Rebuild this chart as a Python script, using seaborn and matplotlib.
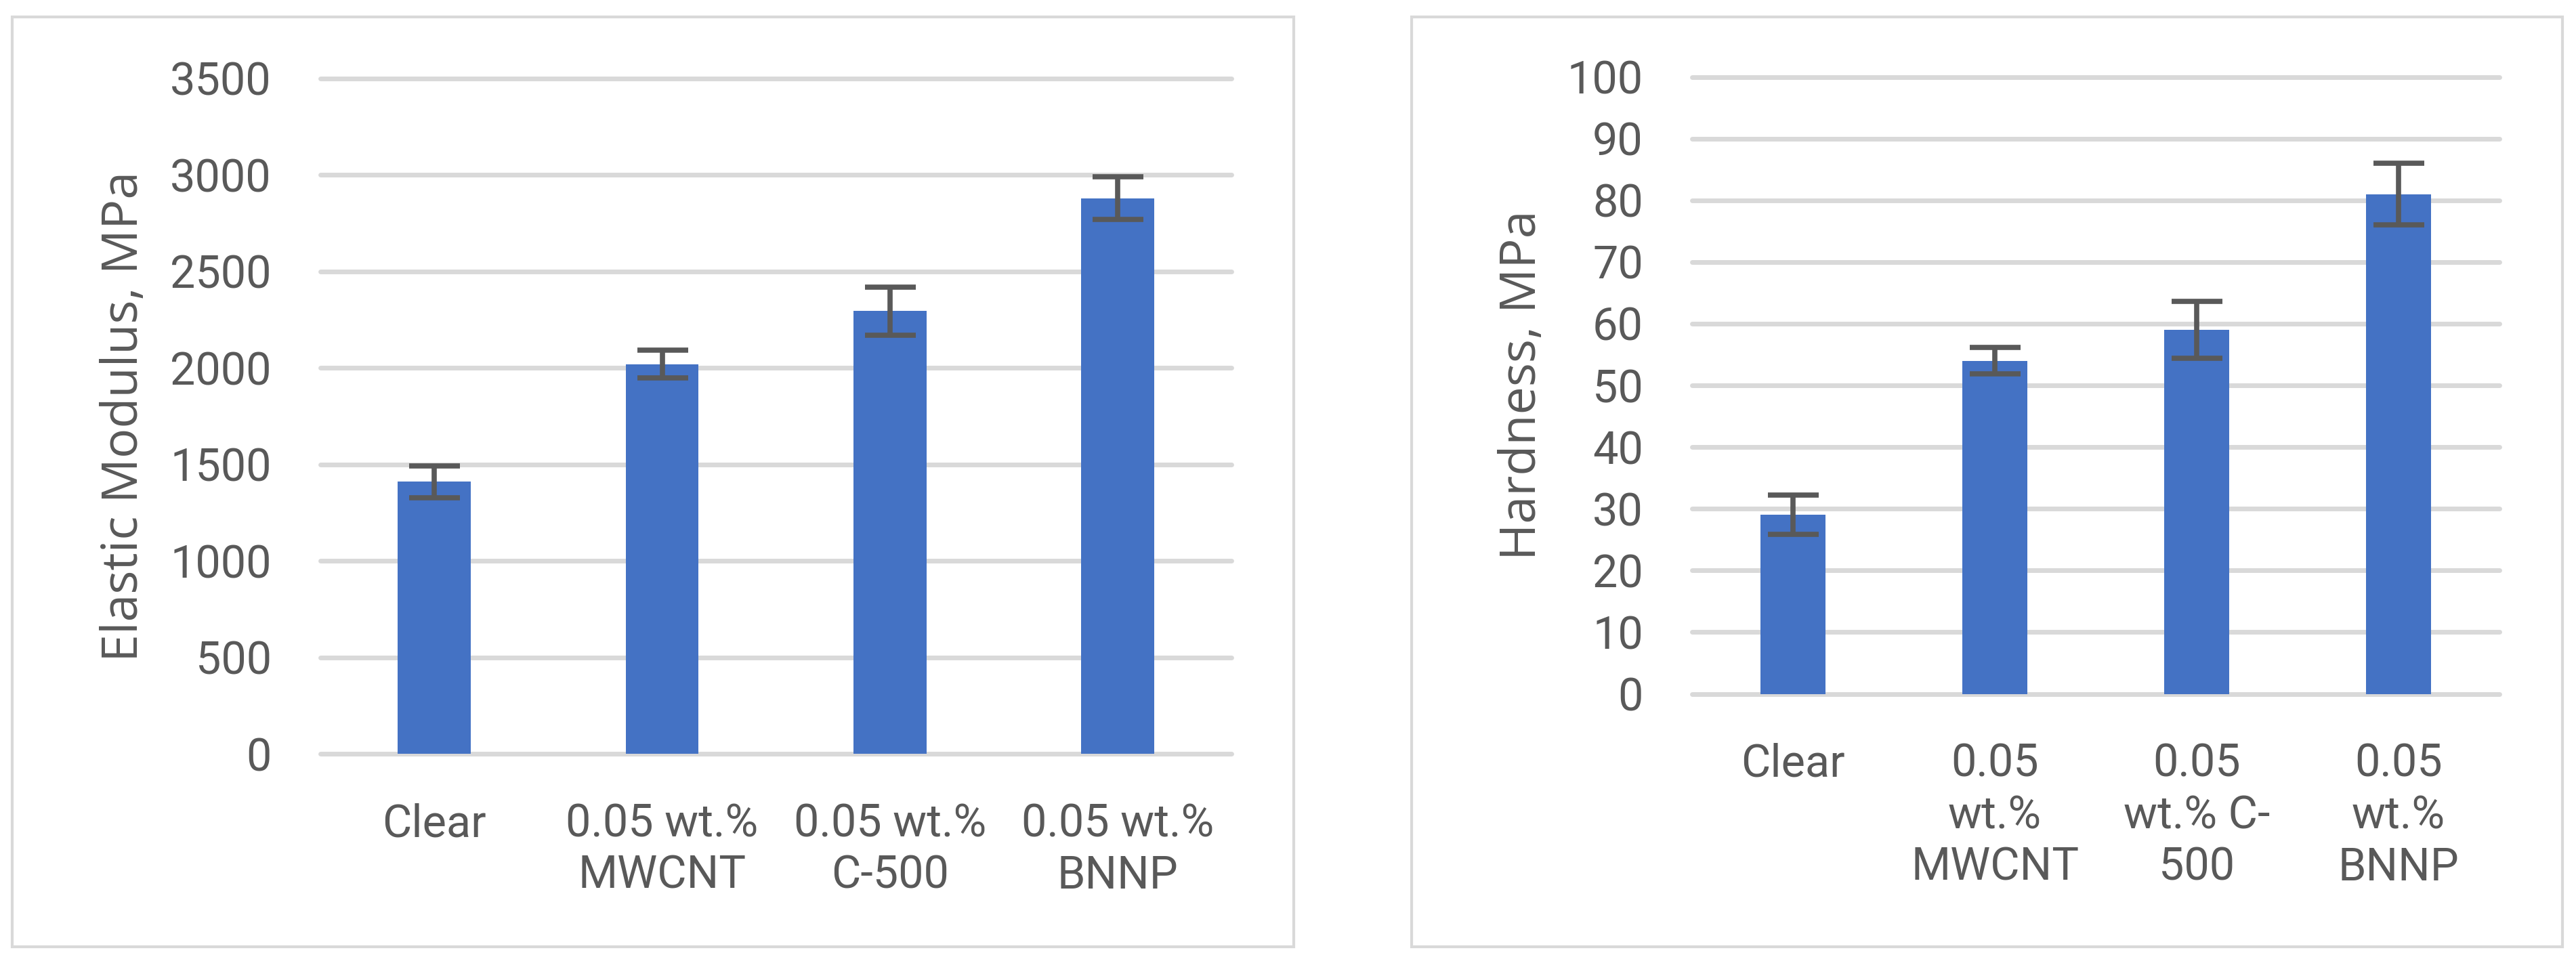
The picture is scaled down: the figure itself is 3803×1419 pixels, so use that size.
import matplotlib
matplotlib.use('Agg')
import matplotlib.pyplot as plt
import seaborn as sns
from matplotlib.patches import Rectangle

# cores
BLUE = '#4472C4'
GRAY_TXT = '#595959'
GRAY_GRID = '#D9D9D9'

# dados
modulus_labels = ['Clear', '0.05 wt.%\nMWCNT', '0.05 wt.%\nC-500', '0.05 wt.%\nBNNP']
modulus_vals = [1410, 2020, 2295, 2880]
modulus_err = [83, 72, 124, 111]
modulus_ticks = [0, 500, 1000, 1500, 2000, 2500, 3000, 3500]

hard_labels = ['Clear', '0.05\nwt.%\nMWCNT', '0.05\nwt.% C-\n500', '0.05\nwt.%\nBNNP']
hard_vals = [29, 54, 59, 81]
hard_err = [3.2, 2.1, 4.6, 5.0]
hard_ticks = list(range(0, 101, 10))

sns.set_style('white')
plt.rcParams['font.family'] = ['Roboto', 'DejaVu Sans']

fig = plt.figure(figsize=(38.03, 14.19), dpi=100)
ax1 = fig.add_axes([0.1244, 0.2156, 0.3537, 0.7027])
ax2 = fig.add_axes([0.6569, 0.278, 0.3134, 0.642])


def plotar_barras(ax, labels, vals, errs, ticks, ylabel, label_x):
    sns.barplot(x=labels, y=vals, color=BLUE, width=0.32, saturation=1,
                linewidth=0, ax=ax, zorder=3)
    ax.errorbar(x=list(range(len(vals))), y=vals, yerr=errs, fmt='none',
                ecolor=GRAY_TXT, elinewidth=5.5, capsize=27, capthick=5.5,
                zorder=4)
    ax.set_xlim(-0.5, len(vals) - 0.5)
    ax.set_ylim(ticks[0], ticks[-1])
    ax.set_yticks(ticks)
    ax.set_yticklabels([str(t) for t in ticks], fontsize=48, color=GRAY_TXT)
    ax.set_xticks(list(range(len(labels))))
    ax.set_xticklabels(labels, fontsize=48, color=GRAY_TXT, linespacing=1.25)
    ax.tick_params(axis='both', length=0, pad=52)
    ax.set_axisbelow(True)
    ax.yaxis.grid(True, color=GRAY_GRID, linewidth=5)
    ax.xaxis.grid(False)
    for line in ax.get_ygridlines():
        line.set_clip_on(False)
    for s in ax.spines.values():
        s.set_visible(False)
    ax.set_xlabel('')
    ax.set_ylabel(ylabel, fontsize=53, color=GRAY_TXT,
                  family=['Open Sans', 'DejaVu Sans'], va='baseline')
    ax.yaxis.set_label_coords(label_x, 0.5)


plotar_barras(ax1, modulus_labels, modulus_vals, modulus_err, modulus_ticks,
              'Elastic Modulus, MPa', -0.2007)
plotar_barras(ax2, hard_labels, hard_vals, hard_err, hard_ticks,
              'Hardness, MPa', -0.1938)

# molduras
fig.add_artist(Rectangle((0.0047, 0.0148), 0.4975, 0.9676, transform=fig.transFigure,
                         fill=False, edgecolor=GRAY_GRID, linewidth=3))
fig.add_artist(Rectangle((0.548, 0.0148), 0.4467, 0.9676, transform=fig.transFigure,
                         fill=False, edgecolor=GRAY_GRID, linewidth=3))

fig.savefig('out.png', dpi=100, facecolor='white')
